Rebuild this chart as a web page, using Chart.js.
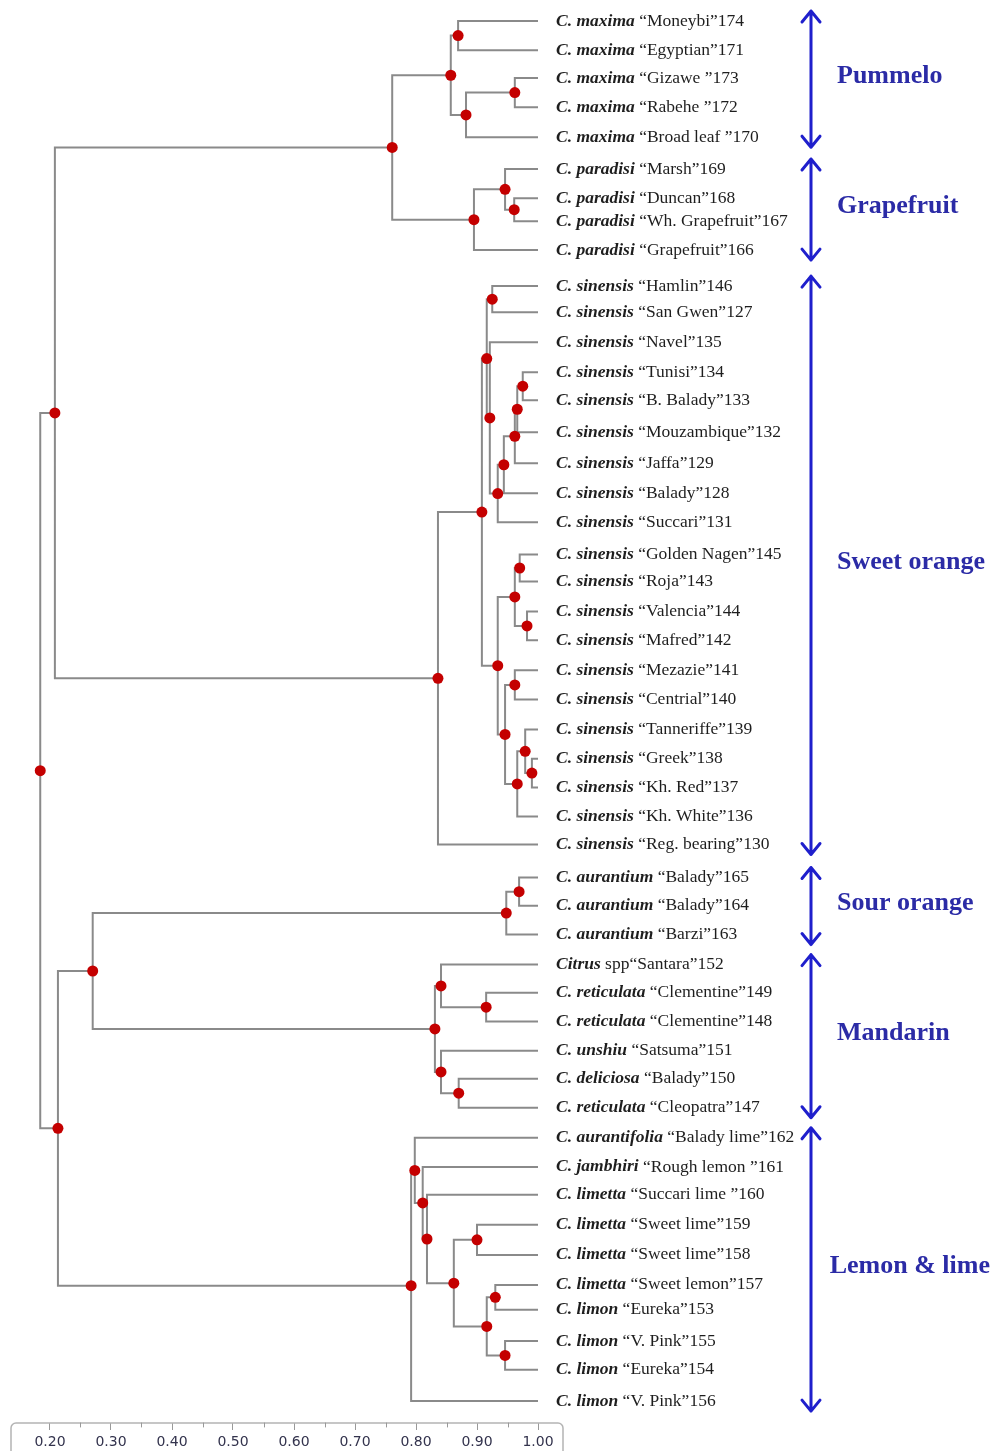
<!DOCTYPE html>
<html>
<head>
<meta charset="utf-8">
<script src="https://cdn.jsdelivr.net/npm/chart.js@4.4.0/dist/chart.umd.min.js"></script>
<style>
  html, body { margin: 0; padding: 0; background: #fff; }
  #wrap { width: 993px; height: 1451px; position: relative; }
</style>
</head>
<body>
<div id="wrap"><canvas id="dendro"></canvas></div>
<script>
// leaves, top to bottom
const SPECIES = [
  "C. maxima", "C. maxima", "C. maxima", "C. maxima", "C. maxima",
  "C. paradisi", "C. paradisi", "C. paradisi", "C. paradisi",
  "C. sinensis", "C. sinensis", "C. sinensis", "C. sinensis", "C. sinensis",
  "C. sinensis", "C. sinensis", "C. sinensis", "C. sinensis", "C. sinensis",
  "C. sinensis", "C. sinensis", "C. sinensis", "C. sinensis", "C. sinensis",
  "C. sinensis", "C. sinensis", "C. sinensis", "C. sinensis", "C. sinensis",
  "C. aurantium", "C. aurantium", "C. aurantium",
  "Citrus", "C. reticulata", "C. reticulata", "C. unshiu", "C. deliciosa", "C. reticulata",
  "C. aurantifolia", "C. jambhiri", "C. limetta", "C. limetta", "C. limetta",
  "C. limetta", "C. limon", "C. limon", "C. limon", "C. limon"
];
const CULTIVARS = [
  "“Moneybi”174", "“Egyptian”171", "“Gizawe ”173", "“Rabehe ”172", "“Broad leaf ”170",
  "“Marsh”169", "“Duncan”168", "“Wh. Grapefruit”167", "“Grapefruit”166",
  "“Hamlin”146", "“San Gwen”127", "“Navel”135", "“Tunisi”134", "“B. Balady”133",
  "“Mouzambique”132", "“Jaffa”129", "“Balady”128", "“Succari”131", "“Golden Nagen”145",
  "“Roja”143", "“Valencia”144", "“Mafred”142", "“Mezazie”141", "“Centrial”140",
  "“Tanneriffe”139", "“Greek”138", "“Kh. Red”137", "“Kh. White”136", "“Reg. bearing”130",
  "“Balady”165", "“Balady”164", "“Barzi”163",
  "spp“Santara”152", "“Clementine”149", "“Clementine”148", "“Satsuma”151", "“Balady”150", "“Cleopatra”147",
  "“Balady lime”162", "“Rough lemon ”161", "“Succari lime ”160", "“Sweet lime”159", "“Sweet lime”158",
  "“Sweet lemon”157", "“Eureka”153", "“V. Pink”155", "“Eureka”154", "“V. Pink”156"
];
// leaf row positions
const LEAF_ROW = [
  0, 0.97, 1.9, 2.87, 3.87,
  4.93, 5.9, 6.67, 7.63,
  8.83, 9.7, 10.7, 11.7, 12.63, 13.7, 14.73, 15.73, 16.7,
  17.77, 18.67, 19.67, 20.63, 21.63, 22.6, 23.6, 24.57, 25.53, 26.5,
  27.43,
  28.53, 29.47, 30.43,
  31.43, 32.37, 33.33, 34.3, 35.23, 36.2,
  37.2, 38.17, 39.1, 40.1, 41.1, 42.1, 42.93, 43.97, 44.93, 45.97
];
const LEAF_SIM = 1.0;

// merges: [child a, child b, similarity]; ids < 48 are leaves, id 48+k is merge k
const MERGES = [
  [0, 1, 0.869], [2, 3, 0.962], [49, 4, 0.882], [48, 50, 0.857],
  [6, 7, 0.961], [5, 52, 0.946], [53, 8, 0.895], [51, 54, 0.761],
  [9, 10, 0.925], [12, 13, 0.975], [57, 14, 0.966], [58, 15, 0.962],
  [59, 16, 0.944], [60, 17, 0.934], [11, 61, 0.921], [56, 62, 0.916],
  [18, 19, 0.970], [20, 21, 0.982], [64, 65, 0.962], [22, 23, 0.962],
  [25, 26, 0.990], [24, 68, 0.979], [69, 27, 0.966], [67, 70, 0.946],
  [66, 71, 0.934], [63, 72, 0.908], [73, 28, 0.836], [55, 74, 0.208],
  [29, 30, 0.969], [76, 31, 0.948], [33, 34, 0.915], [32, 78, 0.841],
  [36, 37, 0.870], [35, 80, 0.841], [79, 81, 0.831], [77, 82, 0.270],
  [41, 42, 0.900], [43, 44, 0.930], [45, 46, 0.946], [85, 86, 0.916],
  [84, 87, 0.862], [40, 88, 0.818], [39, 89, 0.811], [38, 90, 0.798],
  [91, 47, 0.792], [83, 92, 0.213], [75, 93, 0.184]
];

const GROUPS = ["Pummelo", "Grapefruit", "Sweet orange", "Sour orange", "Mandarin", "Lemon & lime"];
const GROUP_FIRST = [0, 5, 9, 29, 32, 38];
const GROUP_LAST = [4, 8, 28, 31, 37, 47];

const X_TICKS = [0.2, 0.3, 0.4, 0.5, 0.6, 0.7, 0.8, 0.9, 1.0];
const X_MINOR = [0.25, 0.35, 0.45, 0.55, 0.65, 0.75, 0.85, 0.95];

// build node positions
const nodeX = LEAF_ROW.map(() => LEAF_SIM);
const nodeY = LEAF_ROW.slice();
const branchPts = [];
const dotPts = [];
MERGES.forEach(([a, b, h]) => {
  const y = (nodeY[a] + nodeY[b]) / 2;
  branchPts.push({ x: nodeX[a], y: nodeY[a] }, { x: h, y: nodeY[a] },
                 { x: h, y: nodeY[b] }, { x: nodeX[b], y: nodeY[b] }, { x: null, y: null });
  nodeX.push(h);
  nodeY.push(y);
  dotPts.push({ x: h, y: y });
});

const labelPlugin = {
  id: "labels",
  afterDraw(chart) {
    const ctx = chart.ctx;
    const xs = chart.scales.x;
    const ys = chart.scales.y;
    ctx.save();

    // leaf labels
    const lx = xs.getPixelForValue(LEAF_SIM) + 18;
    ctx.textBaseline = "middle";
    ctx.fillStyle = "#1e1e1e";
    SPECIES.forEach((sp, i) => {
      const y = ys.getPixelForValue(LEAF_ROW[i]);
      ctx.font = "bold italic 17.5px 'Liberation Serif'";
      ctx.fillText(sp, lx, y);
      const w = ctx.measureText(sp + " ").width;
      ctx.font = "17.5px 'Liberation Serif'";
      ctx.fillText(CULTIVARS[i], lx + w, y);
    });

    // group arrows
    const ax = 811;
    GROUPS.forEach((g, k) => {
      const y1 = ys.getPixelForValue(LEAF_ROW[GROUP_FIRST[k]]) - 10;
      const y2 = ys.getPixelForValue(LEAF_ROW[GROUP_LAST[k]]) + 10;
      ctx.strokeStyle = "#1f1fcc";
      ctx.lineWidth = 3;
      ctx.lineCap = "round";
      ctx.lineJoin = "round";
      ctx.beginPath();
      ctx.moveTo(ax, y1);
      ctx.lineTo(ax, y2);
      ctx.moveTo(ax - 9, y1 + 11);
      ctx.lineTo(ax, y1);
      ctx.lineTo(ax + 9, y1 + 11);
      ctx.moveTo(ax - 9, y2 - 11);
      ctx.lineTo(ax, y2);
      ctx.lineTo(ax + 9, y2 - 11);
      ctx.stroke();

      ctx.fillStyle = "#2b2ba6";
      ctx.font = "bold 26px 'Liberation Serif'";
      const tw = ctx.measureText(g).width;
      ctx.fillText(g, Math.min(ax + 26, 990 - tw), (y1 + y2) / 2 - 3);
    });

    // axis frame and minor ticks
    const top = xs.top;
    const left = xs.getPixelForValue(0.2) - 39;
    const right = xs.getPixelForValue(1.0) + 25;
    ctx.strokeStyle = "#b4b4b4";
    ctx.lineWidth = 1.5;
    ctx.beginPath();
    ctx.roundRect(left, top, right - left, chart.height - top + 10, 5);
    ctx.stroke();
    ctx.strokeStyle = "#999";
    ctx.lineWidth = 1;
    ctx.beginPath();
    X_MINOR.forEach((v) => {
      const px = Math.round(xs.getPixelForValue(v)) + 0.5;
      ctx.moveTo(px, top);
      ctx.lineTo(px, top + 4);
    });
    ctx.stroke();
    ctx.restore();
  }
};

const ctx = document.getElementById("dendro");
new Chart(ctx, {
  type: "scatter",
  data: {
    datasets: [
      {
        label: "nodes",
        data: dotPts,
        pointRadius: 5.5,
        pointStyle: "circle",
        backgroundColor: "#c40000",
        borderWidth: 0
      },
      {
        label: "branches",
        data: branchPts,
        showLine: true,
        spanGaps: false,
        pointRadius: 0,
        borderColor: "#8a8a8a",
        borderWidth: 2
      }
    ]
  },
  options: {
    responsive: true,
    maintainAspectRatio: false,
    animation: false,
    layout: { autoPadding: false, padding: 0 },
    plugins: { legend: { display: false }, tooltip: { enabled: false } },
    scales: {
      x: {
        type: "linear",
        min: 0.2 - 50 / 610,
        max: 0.2 + 943 / 610,
        afterBuildTicks: (scale) => {
          scale.ticks = X_TICKS.map((v) => ({ value: v }));
        },
        afterFit: (scale) => {
          scale.height = 28;
        },
        ticks: {
          callback: (v) => Number(v).toFixed(2),
          color: "#33334d",
          font: { family: "'DejaVu Sans'", size: 14 },
          padding: 4,
          maxRotation: 0,
          autoSkip: false
        },
        grid: { drawOnChartArea: false, tickLength: 7, color: "#999" },
        border: { display: false }
      },
      y: {
        type: "linear",
        reverse: true,
        min: -0.7,
        max: 46.7,
        display: false
      }
    }
  },
  plugins: [labelPlugin]
});
</script>
</body>
</html>
